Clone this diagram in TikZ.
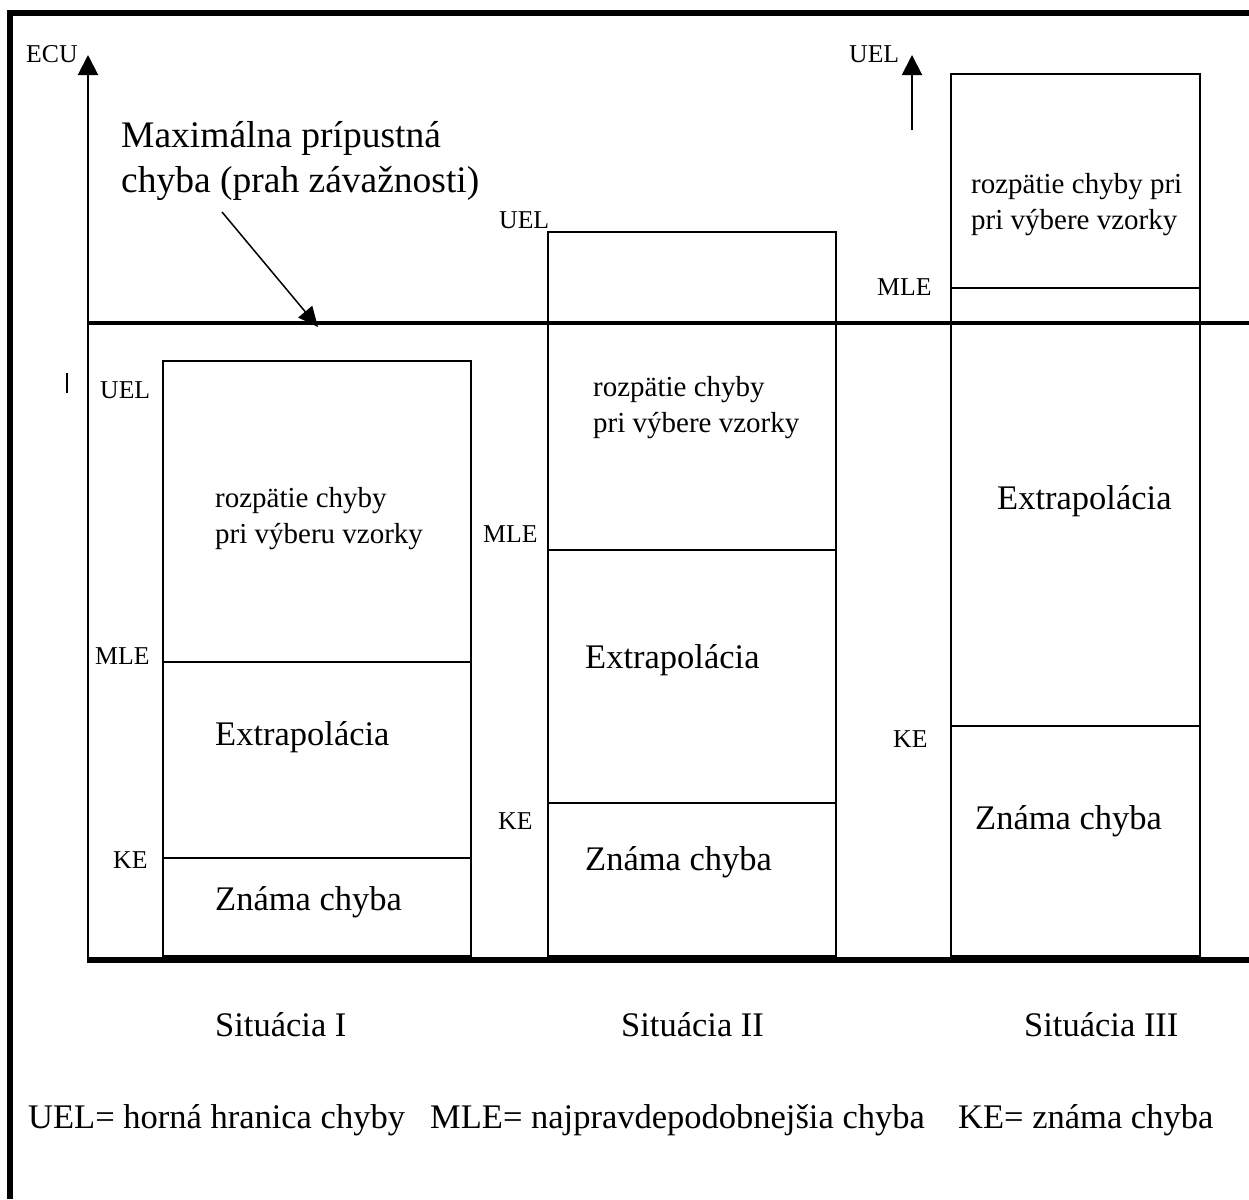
\documentclass[tikz,border=0pt]{standalone}
\usepackage{fontspec}
\setmainfont{Liberation Serif}
\usetikzlibrary{arrows.meta}

\newcommand{\lbltxt}{\fontsize{25.7}{30}\selectfont}
\newcommand{\midtxt}{\fontsize{29}{36}\selectfont}
\newcommand{\bigtxt}{\fontsize{34.5}{41}\selectfont}
\newcommand{\headtxt}{\fontsize{37.5}{45}\selectfont}

\begin{document}
\begin{tikzpicture}[x=1pt, y=-1pt, >={Triangle[length=20pt,width=20pt]},
    box/.style={line width=2.7pt},
    split/.style={line width=2pt},
    lbl/.style={anchor=base west, inner sep=0pt, font=\lbltxt},
    midlbl/.style={anchor=base west, inner sep=0pt, font=\midtxt, align=left},
    biglbl/.style={anchor=base west, inner sep=0pt, font=\bigtxt}]
    \useasboundingbox (0,0) rectangle (1249,1199);

    % Frame
    \draw[line width=6pt, line join=miter] (10,1199) -- (10,13) -- (1249,13);

    % Axes
    \draw[line width=2pt, ->] (88,962) -- (88,55);
    \node[lbl] (ecu) at (26,63) {ECU};
    \draw[line width=2.5pt] (67,373) -- (67,393);

    % Threshold line and base line
    \draw[line width=3.5pt] (88,323) -- (1249,323);
    \draw[line width=6pt] (87,960) -- (1249,960);

    % Threshold caption with pointer (base = last line)
    \node[anchor=base west, inner sep=0pt, font=\headtxt, align=left] (limit) at (121,192)
        {Maximálna prípustná\\chyba (prah závažnosti)};
    \coordinate (ptrFrom) at (222,212);
    \coordinate (ptrTo) at (318,327);
    \draw[line width=1.5pt, -{Triangle[length=20pt,width=18pt]}] (ptrFrom) -- (ptrTo);

    % Situation I
    \draw[box] (163,361) rectangle (471,956);
    \draw[split] (163,662) -- (471,662);
    \draw[split] (163,858) -- (471,858);
    \node[lbl] (uelOne) at (100,398) {UEL};
    \node[lbl] (mleOne) at (95,664) {MLE};
    \node[lbl] (keOne) at (113,868) {KE};
    \node[midlbl] (rangeOne) at (215,543) {rozpätie chyby\\pri výberu vzorky};
    \node[biglbl] (extraOne) at (215,745) {Extrapolácia};
    \node[biglbl] (knownOne) at (215,910) {Známa chyba};

    % Situation II
    \draw[box] (548,232) rectangle (836,956);
    \draw[split] (548,550) -- (836,550);
    \draw[split] (548,803) -- (836,803);
    \node[lbl] (uelTwo) at (499,228) {UEL};
    \node[lbl] (mleTwo) at (483,542) {MLE};
    \node[lbl] (keTwo) at (498,829) {KE};
    \node[midlbl] (rangeTwo) at (593,432) {rozpätie chyby\\pri výbere vzorky};
    \node[biglbl] (extraTwo) at (585,668) {Extrapolácia};
    \node[biglbl] (knownTwo) at (585,870) {Známa chyba};

    % Situation III
    \draw[box] (951,74) rectangle (1200,956);
    \draw[split] (951,288) -- (1200,288);
    \draw[split] (951,726) -- (1200,726);
    \node[lbl] (uelThree) at (849,63) {UEL};
    \coordinate (uelFoot) at (912,130);
    \coordinate (uelTip) at (912,55);
    \draw[line width=2pt, ->] (uelFoot) -- (uelTip);
    \node[lbl] (mleThree) at (877,295) {MLE};
    \node[lbl] (keThree) at (893,747) {KE};
    \node[midlbl] (rangeThree) at (971,229) {rozpätie chyby pri\\pri výbere vzorky};
    \node[biglbl] (extraThree) at (997,509) {Extrapolácia};
    \node[biglbl] (knownThree) at (975,829) {Známa chyba};

    % Situation captions
    \node[biglbl] (sitOne) at (215,1036) {Situácia I};
    \node[biglbl] (sitTwo) at (621,1036) {Situácia II};
    \node[biglbl] (sitThree) at (1024,1036) {Situácia III};

    % Legend
    \node[biglbl] (legUel) at (28,1128) {UEL= horná hranica chyby};
    \node[biglbl] (legMle) at (430,1128) {MLE= najpravdepodobnejšia chyba};
    \node[biglbl] (legKe) at (958,1128) {KE= známa chyba};
\end{tikzpicture}
\end{document}
